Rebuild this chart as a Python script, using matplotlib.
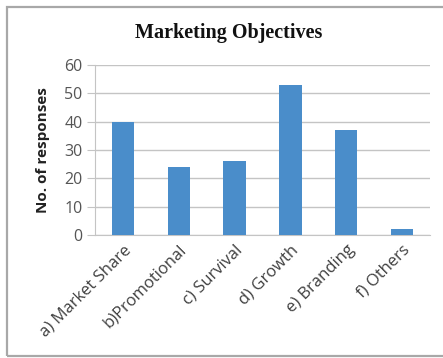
import matplotlib
matplotlib.use("Agg")
import matplotlib.pyplot as plt
from matplotlib.patches import Rectangle

categories = ["a) Market Share", "b)Promotional", "c) Survival", "d) Growth", "e) Branding", "f) Others"]
responses = [40, 24, 26, 53, 37, 2]
yticks = [0, 10, 20, 30, 40, 50, 60]

W, H = 443, 358
fig = plt.figure(figsize=(W / 100, H / 100), dpi=100)
fig.patch.set_facecolor("white")

# chart frame
fig.add_artist(Rectangle((7 / W, 2 / H), (W + 10) / W, (H - 9) / H, transform=fig.transFigure,
                         fill=False, edgecolor="#a8a8a8", linewidth=1.6))

ax = fig.add_axes([95 / W, (H - 235) / H, (430 - 95) / W, 170 / H])
x = list(range(len(categories)))
ax.bar(x, responses, width=0.4, color="#4a8dca", zorder=3)
ax.set_xlim(-0.5, len(categories) - 0.5)
ax.set_ylim(0, 60)
ax.set_yticks(yticks)
ax.grid(axis="y", color="#c4c4c4", linewidth=1.0, zorder=0)
for s in ["top", "right"]:
    ax.spines[s].set_visible(False)
ax.spines["left"].set_color("#c4c4c4")
ax.spines["bottom"].set_color("#c4c4c4")
ax.tick_params(axis="y", length=6, color="#c4c4c4", labelsize=11.5, labelcolor="#555555",
               pad=3)
ax.tick_params(axis="x", length=0, labelsize=12, labelcolor="#404040", pad=5)
for t in ax.get_yticklabels():
    t.set_fontfamily("Open Sans")
ax.set_xticks(x)
ax.set_xticklabels(categories, rotation=45, ha="right", rotation_mode="anchor",
                   fontfamily="Open Sans")
ax.set_ylabel("No. of responses", fontsize=11, fontweight="bold", color="#222222",
              fontfamily="Open Sans", labelpad=10)

fig.text(229 / W, 1 - 33 / H, "Marketing Objectives", ha="center", va="center",
         fontsize=14.5, fontweight="bold", fontfamily="Liberation Serif", color="#111111")

fig.savefig("out.png", dpi=100)
